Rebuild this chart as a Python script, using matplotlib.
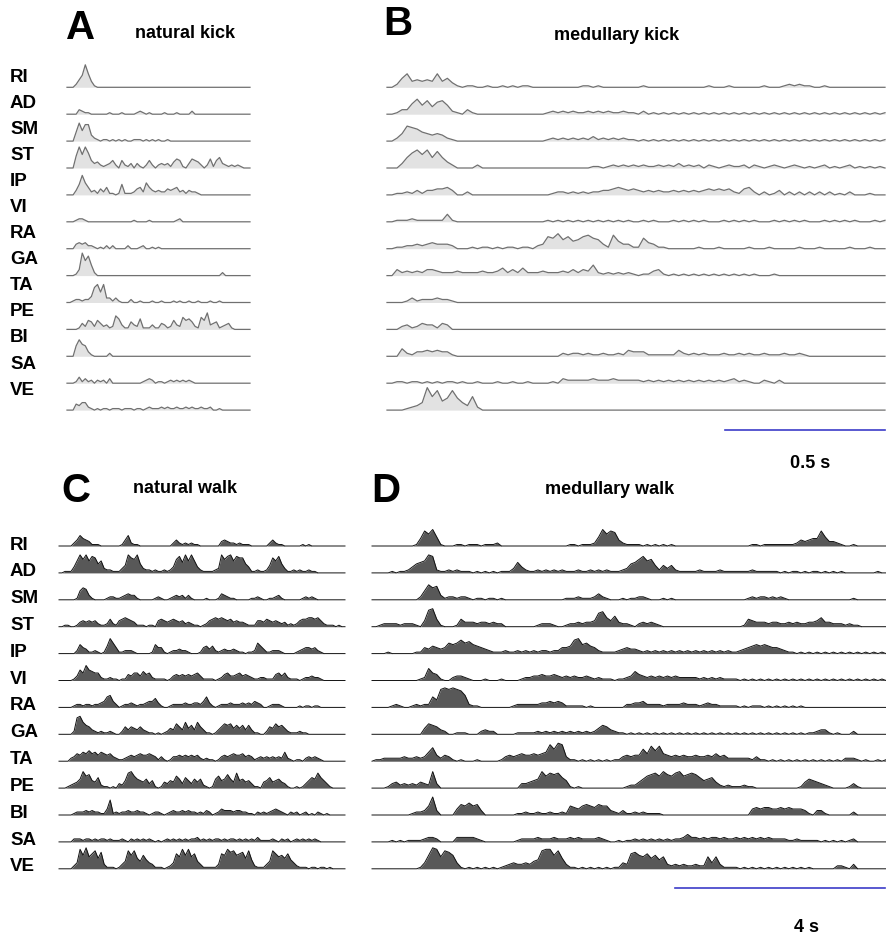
import matplotlib.pyplot as plt
import numpy as np

plt.rcParams['font.family'] = ['Liberation Sans', 'DejaVu Sans']

muscles = ["RI", "AD", "SM", "ST", "IP", "VI", "RA", "GA", "TA", "PE", "BI", "SA", "VE"]

# rectified EMG envelopes, one hex digit per sample (0 = baseline)
kick_natural = [
    "000258f941" "0000000000" "0000000000" "0000000000" "0000000000" "00000000000",
    "0000321100" "0000100010" "0001210100" "0010001000" "0200000000" "00000000000",
    "0006c7bb42" "1011010101" "0011101010" "1001000000" "0000000000" "00000000000",
    "0008e9ea53" "4212352052" "1303102520" "2323146510" "3654202615" "73212121000",
    "00037d8523" "1425110171" "1124528532" "3224345231" "3221000000" "00000000000",
    "0001221000" "0000000000" "0010000100" "0000001200" "0000000000" "00000000000",
    "0003434221" "0102020000" "2000120010" "1000000000" "0000000000" "00000000000",
    "00014fad72" "0000000000" "0000000000" "0000000000" "0000000000" "02000000000",
    "001221224a" "c7c3313100" "0200100010" "0100010100" "1001000100" "10000000000",
    "0000142652" "6423129731" "1532711131" "1431263286" "752186b345" "12341000000",
    "0007b87310" "0000200000" "0000000000" "0000000000" "0000000000" "00000000000",
    "0001413120" "2120300000" "0000012320" "1101212121" "2100000000" "00000000000",
    "0004355210" "1011011101" "1101101211" "1212112112" "1211211200" "10000000000",
]

kick_medullary = [
    "0026945454" "9463101100" "1001010110" "0000000001" "1010000000" "0100000000" "0000100010" "0000010001" "2121100100" "0000000000",
    "001337a695" "8962103100" "0000000000" "0012121211" "2121211211" "0201010101" "0101010101" "0101010101" "0101010101" "0101010101",
    "0025a98654" "5421000000" "0000000000" "0012121212" "1312121211" "0101010101" "0101010101" "0101010101" "0101010101" "0101010101",
    "00037ac9c7" "b742000020" "0000000000" "0000000000" "0110121212" "1211212131" "2120210121" "1202101210" "1210101201" "0120101010",
    "0011213133" "4453002000" "0000000000" "0001221212" "1223345434" "3232322323" "2323434342" "1452020130" "2020202020" "1020001000",
    "0011121111" "1151000000" "0000000000" "0010101010" "1010101010" "0101000101" "0101000101" "0101000101" "0101000101" "0101000101",
    "0011223234" "3332000101" "1010110110" "2387a68568" "9763195331" "1743110000" "0010001000" "0010001000" "0010001000" "0010001000",
    "0042323244" "3222322223" "2235242522" "2322232424" "3721212121" "0113410101" "0101010101" "0101000100" "0000000000" "0000000000",
    "0000131222" "3221000000" "0000000000" "0000000000" "0000000000" "0000000000" "0000000000" "0000000000" "0000000000" "0000000000",
    "0002312433" "1430000000" "0000000000" "0000000000" "0000000000" "0000000000" "0000000000" "0000000000" "0000000000" "0000000000",
    "0005213343" "4331000000" "0000000000" "0000021221" "2112112143" "3311111142" "1212111211" "2121121112" "1121000000" "0000000000",
    "0011011010" "1011010010" "0010010010" "0001032222" "2322232222" "2121212121" "2121212123" "1210021020" "0000000000" "0000000000",
    "00001235f9" "d68d853920" "0000000000" "0000000000" "0000000000" "0000000000" "0000000000" "0000000000" "0000000000" "0000000000",
]

walk_natural = [
    "0000024754" "3111000000" "0147211000" "0000000024" "2121211000" "0000343221" "2111000000" "2421100000" "0101000000" "000000",
    "0011148c9c" "8ba6832211" "135ca9c632" "2121121249" "b7c8c84211" "1123c9bc8b" "aa64112112" "5a8b631121" "2112110000" "000000",
    "0000001687" "3100001221" "1234331000" "0012100123" "2313100001" "0001432110" "0000112100" "1123100000" "0121210000" "000000",
    "0011001343" "4342112521" "4565431110" "1104543454" "3423211012" "4565654534" "3321114435" "4343231212" "4556656421" "110100",
    "0000002643" "1121015a74" "1122210000" "0164410122" "3221000145" "3521232232" "1101127531" "1222100001" "2344342100" "000000",
    "000001375a" "7655211211" "0114355364" "5211110134" "3434345311" "1101245334" "5343211221" "1145352111" "0122322100" "000000",
    "0000012212" "2122347842" "0122321223" "4463100122" "2232233247" "3101222322" "2323243200" "1222100000" "1011011000" "000000",
    "000002bc86" "5321211210" "0253543532" "1101012437" "5384638531" "1013576746" "4636311002" "5475642111" "2110000000" "000000",
    "0000235465" "7564654532" "1123434544" "5431310133" "4343434212" "1101343454" "4534312323" "2323262101" "1023232100" "000000",
    "00012346b8" "9547211010" "325ab86546" "3510143548" "6375364621" "016856964a" "5645311045" "7456431001" "013576a753" "100000",
    "0000012223" "2322114a12" "1223223221" "0122101232" "2323221213" "2012433323" "3221102121" "2343210212" "0120102101" "000000",
    "0000022212" "2121221211" "1210212121" "2101012121" "2121223121" "2122121221" "2121213111" "1210212012" "1212121000" "000000",
    "0000024d9e" "8ac7b31110" "135c9c7596" "431110124a" "8d9d8a5311" "1113a9dbc9" "ab7c621113" "5ca897a642" "1110110110" "100000",
]

walk_medullary = [
    "0000000000" "015a8b6100" "0110111011" "1200000000" "0000000001" "1011126b8a" "9421111010" "1010100000" "0000000000" "0000110111" "1111124345" "5a63321001" "00000000",
    "0000010112" "4678cb2112" "1211101010" "1011137421" "1212121211" "1211212121" "1123679b89" "5253521111" "1211112111" "1111211111" "1010110101" "1010101000" "00000100",
    "0000000000" "0026a89312" "2122101101" "1010000000" "0000000011" "1211124210" "0010112210" "0010100000" "0000000000" "0001212212" "1210000000" "0000000001" "00000000",
    "0012222122" "2104bc5100" "0153332332" "3220000000" "0122210012" "2323349a64" "7322102323" "2100000000" "0000000000" "0015433323" "3223232233" "4633222121" "10000000",
    "0000100000" "0114354347" "6797865432" "1112112121" "2122122445" "9a67542111" "1234332121" "2121212121" "2121212121" "1234565654" "4321101010" "1010101010" "10101010",
    "0000000000" "0012854100" "2332100010" "0010000122" "3343343232" "3223212111" "0112364323" "2323232222" "2121212111" "1010101010" "1010101010" "1010101010" "10101010",
    "0000012100" "1212275cdc" "dcb8211000" "0000012222" "2233434311" "1110100000" "0002233422" "2212222322" "2123221111" "1010111010" "1010101000" "0000000000" "00000000",
    "0000000000" "0004765320" "0111000232" "2000001111" "1212121212" "1212124653" "2110101010" "1010101010" "1010101010" "1010101010" "1010101011" "2331010002" "00000000",
    "0112222232" "2323694243" "1010001000" "0013434544" "5456b8cb31" "1010101010" "113434485a" "7a54343433" "4334353422" "2222131101" "0101010101" "0101010222" "10100101",
    "0000134232" "32432b3000" "0000000000" "0000000334" "56b8a9a751" "0100000000" "0001224689" "a8b98ab89a" "9756742121" "1121100000" "0000001465" "4321000013" "10000000",
    "0000000000" "12236c3000" "0476867300" "0000001121" "1211211216" "5467657663" "2131121211" "1100000000" "0000000000" "0000454554" "4545444310" "3310000002" "00000000",
    "0000010101" "1112332000" "0333332100" "0000001222" "2322232223" "2322223210" "0101121212" "1212122353" "3232332322" "3232323232" "2221121111" "1010101012" "00000000",
    "0000000000" "00149ed8cb" "9410101010" "1012343343" "56cdd9c731" "1010101010" "1143ab98a7" "9683232322" "3228483111" "1010101010" "1010101010" "0000022103" "00000000",
]

W, H = 886, 938
fig = plt.figure(figsize=(W / 100, H / 100), dpi=100)
fig.patch.set_facecolor("white")


def ftext(x, y, s, **kw):
    fig.text(x / W, 1 - y / H, s, ha="center", va="center", fontweight="bold", **kw)


def panel(traces, n, x0, x1, y_first, spacing, color, lw, fill_alpha):
    ax = fig.add_axes([x0 / W, 1 - (y_first + 12.5 * spacing) / H,
                       (x1 - x0) / W, 13.5 * spacing / H])
    ax.set_xlim(0, n - 1)
    ax.set_ylim(-12.5, 1)
    ax.axis("off")
    scale = 1.5 / spacing
    x = np.arange(n)
    for k, s in enumerate(traces):
        vals = np.array([int(c, 16) for c in s.ljust(n, "0")[:n]])
        y = -k + vals * scale
        ax.fill_between(x, -k, y, color=color, alpha=fill_alpha, lw=0, clip_on=False)
        ax.plot(x, y, color=color, lw=lw, clip_on=False)
    return ax


panel(kick_natural, 61, 67, 250, 87.3, 26.9, "#707070", 0.9, 0.2)
panel(kick_medullary, 100, 387, 885, 87.3, 26.9, "#707070", 0.9, 0.2)
panel(walk_natural, 96, 59, 345, 546, 26.9, "#111111", 0.7, 0.7)
panel(walk_medullary, 128, 372, 886, 546, 26.9, "#111111", 0.7, 0.7)

for k, m in enumerate(muscles):
    fig.text(10 / W, 1 - (77 + 26.1 * k) / H, m, ha="left", va="center",
             fontweight="bold", fontsize=13.5)
    fig.text(10 / W, 1 - (545 + 26.83 * k) / H, m, ha="left", va="center",
             fontweight="bold", fontsize=13.5)

ftext(81, 28, "A", fontsize=29)
ftext(398, 24, "B", fontsize=29)
ftext(76, 491, "C", fontsize=29)
ftext(386, 491, "D", fontsize=29)
ftext(185, 33, "natural kick", fontsize=13)
ftext(617, 36, "medullary kick", fontsize=13)
ftext(185, 488, "natural walk", fontsize=13)
ftext(610, 490, "medullary walk", fontsize=13)

# scale bars
fig.add_artist(plt.Line2D([725 / W, 885 / W], [1 - 430 / H, 1 - 430 / H], color="#3c3cc8", lw=1.2))
fig.add_artist(plt.Line2D([675 / W, 885 / W], [1 - 888 / H, 1 - 888 / H], color="#3c3cc8", lw=1.2))
ftext(810, 463, "0.5 s", fontsize=13)
ftext(806, 927, "4 s", fontsize=13)

fig.savefig("out.png", dpi=100, facecolor="white")
